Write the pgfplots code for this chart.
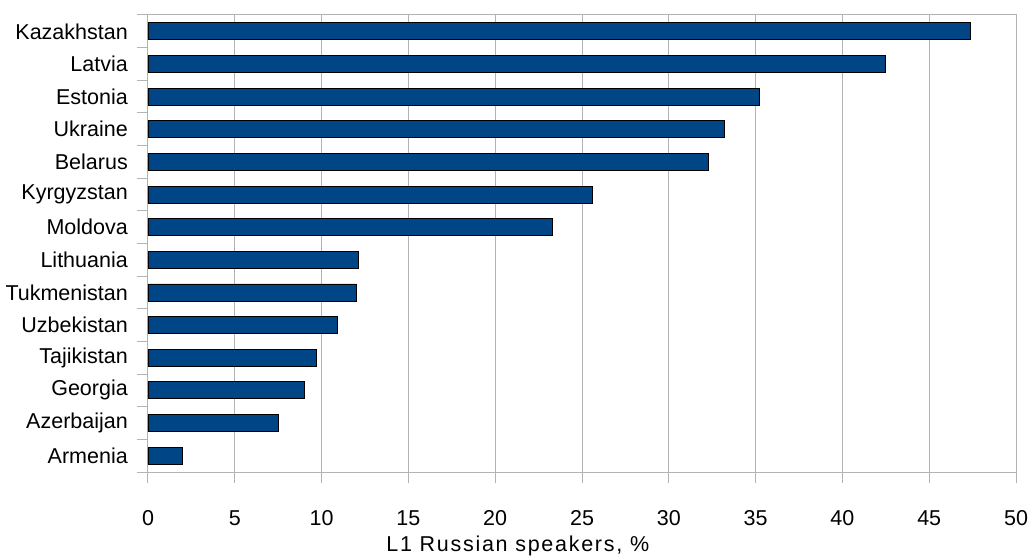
\documentclass[border=0pt]{standalone}
\usepackage{fontspec}
\setmainfont{Liberation Sans}
\usepackage{pgfplots}
\pgfplotsset{compat=1.18}
\definecolor{barblue}{HTML}{004586}
\definecolor{gridgray}{HTML}{B3B3B3}
\begin{document}
\begin{tikzpicture}
\path[use as bounding box] (-148bp,-85bp) rectangle (883bp,472bp);
\begin{axis}[
  at={(0,0)}, anchor=south west,
  scale only axis, width=868bp, height=457bp,
  xbar, bar width=17bp,
  xmin=0, xmax=50, ymin=-0.5, ymax=13.5,
  xtick={0,5,...,50},
  ytick={-0.5,0.5,...,13.5},
  yticklabels={},
  extra y ticks={0,...,13},
  extra y tick labels={Armenia,Azerbaijan,Georgia,Tajikistan,Uzbekistan,Tukmenistan,Lithuania,Moldova,Kyrgyzstan,Belarus,Ukraine,Estonia,Latvia,Kazakhstan},
  extra y tick style={major tick length=0pt, yticklabel style={inner sep=0pt, anchor=east, xshift=-20bp}},
  xtick pos=lower, ytick pos=left,
  tick align=outside, major tick length=10.5bp,
  xmajorgrids, major grid style={gridgray, line width=1bp},
  axis line style={gridgray, line width=1bp},
  tick style={gridgray, line width=1bp},
  /pgf/number format/assume math mode=true,
  every tick label/.append style={font=\fontsize{21.5bp}{25bp}\selectfont, text=black},
  xticklabel style={inner sep=0pt, anchor=base, yshift=-42.5bp},
  xlabel={L1 Russian speakers, \%},
  xlabel style={at={(axis description cs:0.426,0)}, anchor=base, yshift=-79.5bp, inner sep=0pt,
    font=\fontsize{21.5bp}{25bp}\selectfont\addfontfeature{LetterSpace=8}},
]
\addplot[fill=barblue, draw=black, line width=0.8bp] coordinates {
  (2.0,0) (7.5,1) (9.0,2) (9.7,3) (10.9,4) (12.0,5) (12.1,6)
  (23.3,7) (25.6,8) (32.3,9) (33.2,10) (35.2,11) (42.5,12) (47.4,13)
};
\end{axis}
\end{tikzpicture}
\end{document}
